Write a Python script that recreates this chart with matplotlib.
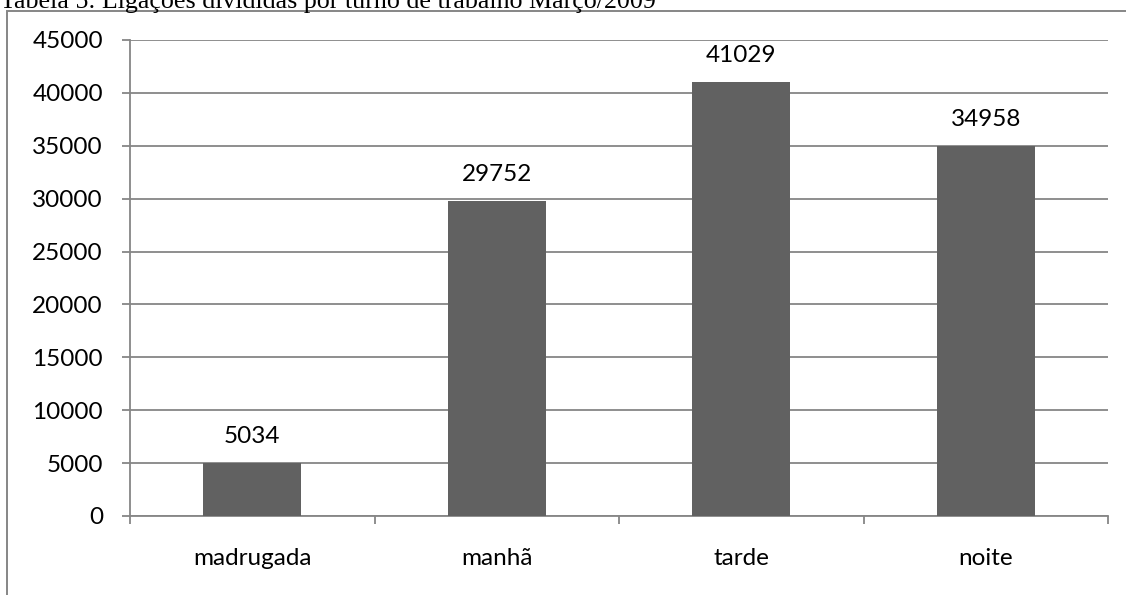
import numpy as np
import matplotlib
import matplotlib.pyplot as plt
from matplotlib.patches import Rectangle

turnos = ['madrugada', 'manhã', 'tarde', 'noite']
ligacoes = [5034, 29752, 41029, 34958]
y_ticks = [0, 5000, 10000, 15000, 20000, 25000, 30000, 35000, 40000, 45000]
titulo = 'Tabela 5: Ligações divididas por turno de trabalho Março/2009'

cor_barra = '#616161'
cor_linha = '#868686'
fs = 17.5

fig = plt.figure(figsize=(11.26, 5.95), dpi=100)
ax = fig.add_axes([130 / 1126, 1 - 516 / 595, 978 / 1126, 476 / 595])

# moldura do grafico (cortada a direita e embaixo)
fig.patches.append(Rectangle((7 / 1126, -0.1), 1.2, 1 - 11 / 595 + 0.1,
                             transform=fig.transFigure, fill=False,
                             edgecolor=cor_linha, lw=1.4))
fig.text(0.0, 1 - 8 / 595, titulo, family='Liberation Serif', fontsize=18.7,
         ha='left', va='baseline', color='black')

x = np.arange(len(turnos))
ax.bar(x, ligacoes, width=0.4, color=cor_barra, zorder=3)
for xi, v in zip(x, ligacoes):
    ax.text(xi, v + 1890, str(v), ha='center', va='baseline',
            family='Lato', fontsize=fs)

ax.set_xlim(-0.5, len(turnos) - 0.5)
ax.set_ylim(0, 45000)
ax.set_yticks(y_ticks)
ax.set_yticklabels([str(t) for t in y_ticks], family='Lato', fontsize=fs)
ax.yaxis.grid(True, color=cor_linha, lw=1.3, zorder=0)
ax.set_axisbelow(True)

ax.set_xticks(np.arange(len(turnos) + 1) - 0.5)
ax.set_xticklabels([])
ax.set_xticks(x, minor=True)
ax.set_xticklabels(turnos, minor=True, family='Lato', fontsize=fs)
ax.tick_params(axis='x', which='major', length=6, color=cor_linha, width=1.3)
ax.tick_params(axis='x', which='minor', length=0, pad=23)
ax.tick_params(axis='y', length=6, color=cor_linha, width=1.3, pad=13.5)

for s in ['top', 'right']:
    ax.spines[s].set_visible(False)
for s in ['left', 'bottom']:
    ax.spines[s].set_color(cor_linha)
    ax.spines[s].set_linewidth(1.3)

fig.savefig('out.png', dpi=100)
